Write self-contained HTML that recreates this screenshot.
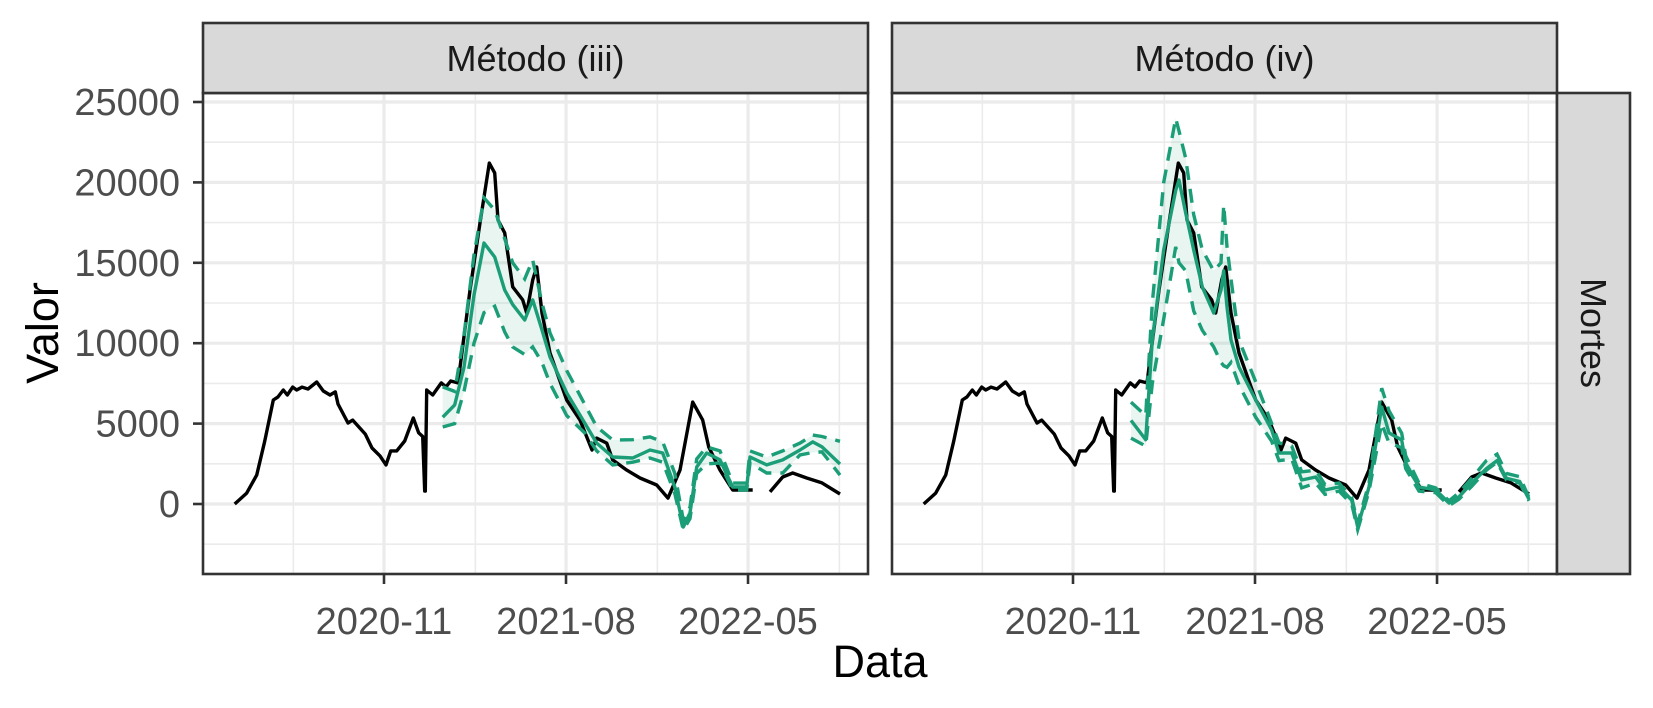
<!DOCTYPE html>
<html><head><meta charset="utf-8">
<style>
html,body{margin:0;padding:0;background:#fff;}
svg{display:block;font-family:"Liberation Sans",Arial,sans-serif;}
</style></head>
<body>
<svg id="chart" width="1653" height="708" viewBox="0 0 1653 708"></svg>
<script>
// ---- data (days since 2020-11-01, deaths) ----
const obsDays = [-224,-206,-191,-179,-166,-159,-151,-145,-137,-131,-123,-114,-101,-91,-81,-73,-69,-54,-47,-39,-28,-18,-6,3,10,19,31,44,52,58,61,62,64,73,86,93,100,111,129,144,158,166,171,181,193,208,214,223,229,237,249,274,294,312,319,334,343,364,384,409,426,444,463,478,487,504,523,553,null,579,598,613,634,657,684];
const obsVals = [0,680,1800,3900,6470,6660,7090,6780,7270,7090,7270,7150,7590,7030,6780,6970,6220,5040,5220,4850,4350,3480,2990,2430,3300,3300,3920,5350,4420,4200,800,800,7090,6780,7530,7280,7650,7530,13300,17480,21200,20590,17660,16860,13500,12690,11880,13930,14740,11880,9390,6470,5220,3360,4100,3790,2740,2110,1620,1180,370,2110,6340,5220,3550,2110,870,870,null,750,1680,1930,1620,1310,620];

const m3Days = [88,106,120,135,150,166,181,193,211,223,237,249,274,301,319,343,373,399,418,436,449,459,469,484,504,523,544,549,574,598,624,643,657,684];
const m3Mean = [5400,6160,8500,13000,16230,15360,13300,12400,11440,12690,10820,9140,6910,5040,3790,2920,2860,3360,3170,1060,-1430,-560,2300,3170,2740,1060,1060,2920,2430,2740,3360,3860,3550,2490];
const m3Upper = [7280,7000,10500,15500,19030,18290,16500,15000,14000,15180,12500,10640,8300,6200,4800,3980,4000,4170,3860,1930,-1000,-200,2800,3550,3300,1300,1300,3300,2920,3300,3790,4290,4200,3900];
const m3Lower = [4790,5000,7000,10000,11900,12300,10700,9770,9300,9770,8800,7500,5500,4420,3300,2430,2600,2860,2600,680,-1620,-900,1900,2500,2550,870,870,2550,1930,1930,3050,3200,3240,1800];

const m4Days = [87,109,119,136,154,159,169,181,194,211,222,226,231,237,249,274,298,309,328,343,364,378,399,418,427,444,463,474,493,499,519,544,564,579,598,620,636,650,670,684];
const m4Mean = [5200,4000,10200,15800,19500,20150,18100,15800,13500,11880,13300,14500,12250,10200,8520,6470,4600,3170,3170,1490,1680,870,1060,250,-1430,1060,6030,4420,3980,2550,1060,870,60,440,1300,2200,2700,1600,1400,300];
const m4Upper = [6340,5500,12500,20000,23980,23200,21500,18000,15800,14500,15000,18600,16000,14000,10200,7600,5000,3800,3600,2000,2100,1200,1300,400,-1200,1300,7200,5800,4400,3000,1300,1000,200,700,1600,2700,3100,1900,1700,400];
const m4Lower = [4100,3600,7500,11500,15990,15000,14500,12000,10800,9770,8800,8600,8500,8800,7400,5400,3900,2700,2800,1000,1300,600,800,0,-1600,800,5000,3800,3500,2200,800,700,-100,300,1100,2100,2600,1500,1300,200];

const yTicks = [0,5000,10000,15000,20000,25000];
const yMinor = [-2500,2500,7500,12500,17500,22500];
const xTicks = [0,273,546];
const xTickLabels = ["2020-11","2021-08","2022-05"];
const xMinor = [-136,137,410,683];
const panelTitles = ["Método (iii)","Método (iv)"];

// ---- layout ----
const NS="http://www.w3.org/2000/svg";
const svg=document.getElementById('chart');
const PT=93, PB=574, PW=665;
const panelsX=[203,892];
const GREEN="#1b9e77";
const LW=3.4;
function sx(px0,d){return px0+181+d*0.6667;}
function sy(v){return 504-v*0.01608;}
function el(tag,attrs,parent){const e=document.createElementNS(NS,tag);for(const k in attrs)e.setAttribute(k,attrs[k]);(parent||svg).appendChild(e);return e;}
function pathFrom(days,vals,x0){let d="",pen=false;for(let i=0;i<days.length;i++){if(days[i]===null||vals[i]===null){pen=false;continue;}d+=(pen?"L":"M")+sx(x0,days[i]).toFixed(1)+","+sy(vals[i]).toFixed(1);pen=true;}return d;}

const defs=el('defs',{});
panelsX.forEach((x0,pi)=>{
  const cp=el('clipPath',{id:'clip'+pi},defs);
  el('rect',{x:x0,y:PT,width:PW,height:PB-PT},cp);
  const g=el('g',{});
  
  
  el('rect',{x:x0,y:PT,width:PW,height:PB-PT,fill:'#fff'},g);
  const grid=el('g',{'clip-path':'url(#clip'+pi+')'},g);
  
  
  yMinor.forEach(v=>el('line',{x1:x0,x2:x0+PW,y1:sy(v),y2:sy(v),stroke:'#ebebeb','stroke-width':1.6},grid));
  xMinor.forEach(d=>el('line',{x1:sx(x0,d),x2:sx(x0,d),y1:PT,y2:PB,stroke:'#ebebeb','stroke-width':1.6},grid));
  yTicks.forEach(v=>el('line',{x1:x0,x2:x0+PW,y1:sy(v),y2:sy(v),stroke:'#ebebeb','stroke-width':3.2},grid));
  xTicks.forEach(d=>el('line',{x1:sx(x0,d),x2:sx(x0,d),y1:PT,y2:PB,stroke:'#ebebeb','stroke-width':3.2},grid));
  const days = pi===0?m3Days:m4Days, mean=pi===0?m3Mean:m4Mean, up=pi===0?m3Upper:m4Upper, lo=pi===0?m3Lower:m4Lower;
  const data=el('g',{'clip-path':'url(#clip'+pi+')'},g);
  let pts=[];
  for(let i=0;i<days.length;i++)pts.push(sx(x0,days[i]).toFixed(1)+","+sy(up[i]).toFixed(1));
  for(let i=days.length-1;i>=0;i--)pts.push(sx(x0,days[i]).toFixed(1)+","+sy(lo[i]).toFixed(1));
  const band=el('polygon',{points:pts.join(" "),fill:GREEN,'fill-opacity':0.1},data);
  
  
  const obs=el('path',{d:pathFrom(obsDays,obsVals,x0),fill:'none',stroke:'#000','stroke-width':LW,'stroke-linejoin':'round'},data);
  
  
  const uL=el('path',{d:pathFrom(days,up,x0),fill:'none',stroke:GREEN,'stroke-width':LW,'stroke-dasharray':'14,9'},data);
  
  
  const lL=el('path',{d:pathFrom(days,lo,x0),fill:'none',stroke:GREEN,'stroke-width':LW,'stroke-dasharray':'14,9'},data);
  
  
  const mL=el('path',{d:pathFrom(days,mean,x0),fill:'none',stroke:GREEN,'stroke-width':LW,'stroke-linejoin':'round'},data);
  
  
  el('rect',{x:x0,y:PT,width:PW,height:PB-PT,fill:'none',stroke:'#333','stroke-width':2.6},g);
  const st=el('g',{},g);
  
  
  el('rect',{x:x0,y:23,width:PW,height:PT-23,fill:'#d9d9d9',stroke:'#333','stroke-width':2.6},st);
  const t=el('text',{x:x0+PW/2,y:71,'text-anchor':'middle','font-size':36,fill:'#1a1a1a'},st);
  t.textContent=panelTitles[pi];
  xTicks.forEach((d,i)=>{
    el('line',{x1:sx(x0,d),x2:sx(x0,d),y1:PB,y2:PB+10,stroke:'#333','stroke-width':2.6},g);
    const tl=el('text',{x:sx(x0,d),y:634,'text-anchor':'middle','font-size':38,fill:'#4d4d4d'},g);
    
    
    tl.textContent=xTickLabels[i];
  });
});
yTicks.forEach(v=>{
  el('line',{x1:193,x2:203,y1:sy(v),y2:sy(v),stroke:'#333','stroke-width':2.6});
  const tl=el('text',{x:180,y:sy(v)+13,'text-anchor':'end','font-size':38,fill:'#4d4d4d'});
  
  
  tl.textContent=v;
});
const rs=el('g',{});


el('rect',{x:1557,y:PT,width:73,height:PB-PT,fill:'#d9d9d9',stroke:'#333','stroke-width':2.6},rs);
const rt=el('text',{x:0,y:0,'text-anchor':'middle','font-size':36,fill:'#1a1a1a',transform:'translate(1581,333) rotate(90)'},rs);
rt.textContent="Mortes";
const xt=el('text',{x:880,y:677,'text-anchor':'middle','font-size':45,fill:'#000'});


xt.textContent="Data";
const yt=el('text',{x:0,y:0,'text-anchor':'middle','font-size':45,fill:'#000',transform:'translate(58,333) rotate(-90)'});


yt.textContent="Valor";
</script>
</body></html>
